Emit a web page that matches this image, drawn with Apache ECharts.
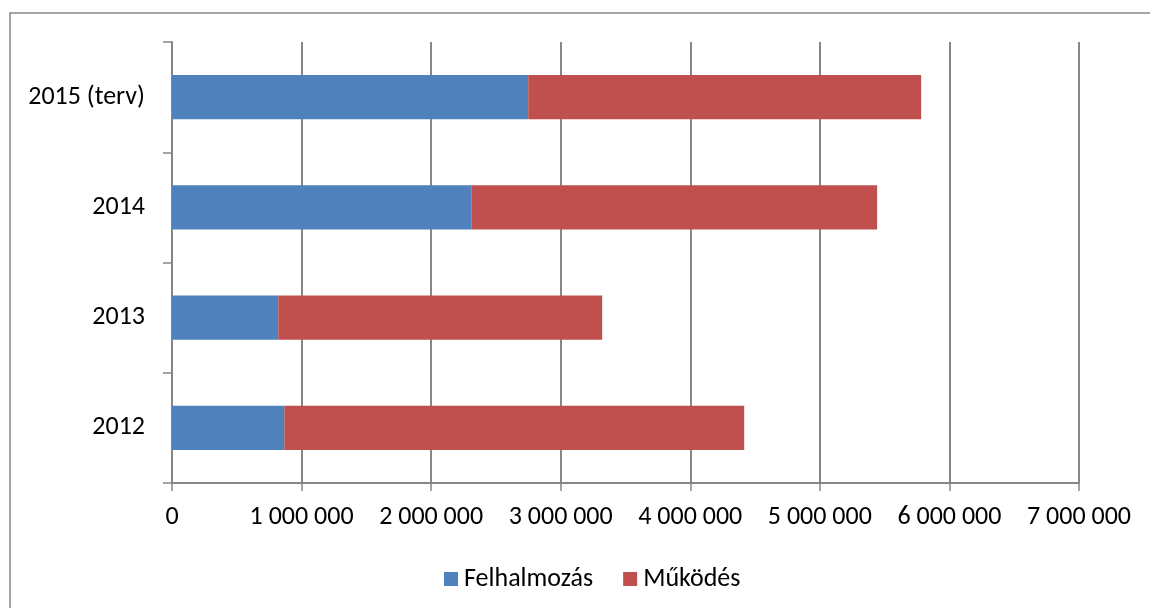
<!DOCTYPE html>
<html>
<head>
<meta charset="utf-8">
<script src="https://cdn.jsdelivr.net/npm/echarts@6/dist/echarts.min.js"></script>
<style>
html,body{margin:0;padding:0;background:#fff;}
#c{width:1150px;height:608px;}
</style>
</head>
<body>
<div id="c"></div>
<script>
const categories = ['2012', '2013', '2014', '2015 (terv)'];
const felhalmozas = [867000, 820000, 2310000, 2749000];
const mukodes = [3549000, 2500000, 3132000, 3033000];
const seriesNames = ['Felhalmozás', 'Működés'];
const xTicks = [0, 1000000, 2000000, 3000000, 4000000, 5000000, 6000000, 7000000];

const font = 'Carlito, Calibri, "Open Sans", "Noto Sans", sans-serif';
const gray = '#868686';

function fmt(v) {
  return String(v).replace(/\B(?=(\d{3})+(?!\d))/g, ' ');
}

const chart = echarts.init(document.getElementById('c'), null, {renderer: 'canvas'});
chart.setOption({
  animation: false,
  backgroundColor: '#fff',
  graphic: [{
    type: 'rect',
    shape: {x: 10, y: 13, width: 1200, height: 700},
    style: {fill: 'none', stroke: gray, lineWidth: 1.5},
    silent: true
  }],
  grid: {left: 172, right: 71, top: 42, bottom: 125, containLabel: false},
  legend: {
    left: 439, top: 561,
    itemWidth: 14, itemHeight: 14, itemGap: 30,
    icon: 'rect',
    textStyle: {fontFamily: font, fontSize: 26, color: '#000', padding: [0, 0, 0, 1]},
    data: seriesNames
  },
  xAxis: {
    type: 'value',
    min: xTicks[0], max: xTicks[xTicks.length - 1], interval: xTicks[1] - xTicks[0],
    axisLine: {show: true, lineStyle: {color: gray, width: 2}},
    axisTick: {show: true, length: 8, lineStyle: {color: gray, width: 1.5}},
    splitLine: {show: true, lineStyle: {color: gray, width: 2}},
    axisLabel: {
      margin: 21,
      fontFamily: font, fontSize: 26, color: '#000',
      formatter: function (v) { return fmt(v); }
    }
  },
  yAxis: {
    type: 'category',
    data: categories,
    axisLine: {show: true, lineStyle: {color: gray, width: 2}},
    axisTick: {show: true, length: 9, lineStyle: {color: gray, width: 1.5}},
    axisLabel: {margin: 27, fontFamily: font, fontSize: 26, color: '#000'}
  },
  series: [
    {
      name: seriesNames[0], type: 'bar', stack: 'total',
      data: felhalmozas, barCategoryGap: '60%',
      itemStyle: {color: '#4F81BD'}
    },
    {
      name: seriesNames[1], type: 'bar', stack: 'total',
      data: mukodes, barCategoryGap: '60%',
      itemStyle: {color: '#C0504D'}
    }
  ]
});
</script>
</body>
</html>
